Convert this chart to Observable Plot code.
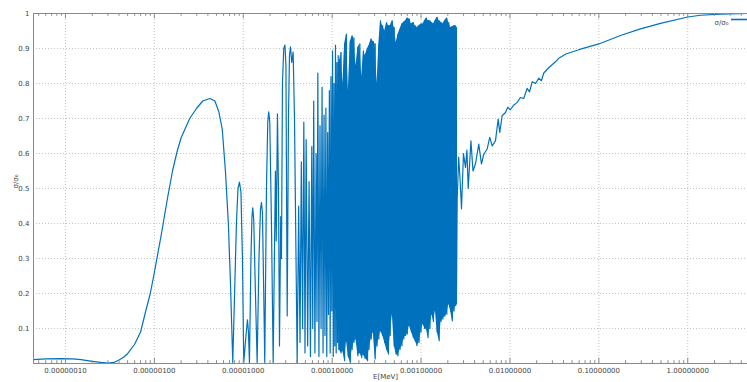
<!DOCTYPE html>
<html><head><meta charset="utf-8">
<script src="https://cdn.jsdelivr.net/npm/d3@7"></script>
<script src="https://cdn.jsdelivr.net/npm/@observablehq/plot@0.6"></script>
<style>body{margin:0;background:#fff;} svg{display:block}</style>
</head><body><div id="chart"></div>
<script>
// ---- data (E in MeV, value = sigma/sigma0) ----
const smoothE = [4.37e-8, 6e-8, 9e-8, 1.2e-7, 1.5e-7, 2e-7, 2.5e-7, 3e-7, 3.5e-7, 4e-7, 4.5e-7, 5e-7, 6e-7, 7e-7, 8e-7, 9e-7, 1e-6, 1.2e-6, 1.4e-6, 1.6e-6, 1.8e-6, 2e-6, 2.5e-6, 3e-6, 3.5e-6, 4.2e-6, 4.8e-6, 5.3e-6, 5.8e-6, 6.3e-6, 6.8e-6, 7.2e-6];
const smoothV = [0.011, 0.013, 0.014, 0.013, 0.011, 0.006, 0.003, 0.001, 0.003, 0.01, 0.018, 0.028, 0.055, 0.09, 0.15, 0.2, 0.26, 0.37, 0.47, 0.55, 0.605, 0.645, 0.70, 0.73, 0.75, 0.757, 0.75, 0.72, 0.67, 0.55, 0.40, 0.22];

const resonE = [7.62e-6, 8.38e-6, 8.72e-6, 9.06e-6, 9.42e-6, 9.79e-6, 1.013e-5, 1.073e-5, 1.115e-5, 1.144e-5,
  1.174e-5, 1.22e-5, 1.253e-5, 1.279e-5, 1.312e-5, 1.371e-5, 1.433e-5, 1.502e-5, 1.561e-5, 1.602e-5,
  1.644e-5, 1.70e-5, 1.745e-5, 1.824e-5, 1.886e-5, 1.935e-5, 1.987e-5, 2.076e-5, 2.17e-5, 2.30e-5,
  2.35e-5, 2.425e-5, 2.49e-5, 2.555e-5, 2.64e-5, 2.69e-5, 2.76e-5, 2.855e-5, 2.945e-5, 3.02e-5,
  3.12e-5, 3.225e-5, 3.31e-5, 3.40e-5, 3.51e-5, 3.64e-5, 3.77e-5, 4.04e-5];
const resonV = [0.003, 0.40, 0.50, 0.518, 0.49, 0.30, 0.003, 0.08, 0.125, 0.09,
  0.003, 0.30, 0.42, 0.445, 0.41, 0.20, 0.003, 0.30, 0.44, 0.46,
  0.43, 0.20, 0.003, 0.50, 0.69, 0.719, 0.69, 0.40, 0.003, 0.55,
  0.35, 0.713, 0.50, 0.05, 0.42, 0.30, 0.80, 0.90, 0.91, 0.85,
  0.136, 0.70, 0.88, 0.905, 0.86, 0.89, 0.70, 0.003];

const clusterE = [4.2e-5, 4.35e-5, 4.5e-5, 4.65e-5, 4.8e-5, 4.95e-5, 5.1e-5, 5.3e-5, 5.5e-5, 5.7e-5,
  5.9e-5, 6.05e-5, 6.2e-5, 6.4e-5, 6.6e-5, 6.75e-5, 6.9e-5, 7.1e-5, 7.3e-5, 7.5e-5,
  7.7e-5, 7.9e-5, 8.1e-5, 8.3e-5, 8.5e-5, 8.7e-5, 8.9e-5, 9.1e-5, 9.3e-5, 9.5e-5,
  9.7e-5, 9.9e-5, 1.01e-4, 1.03e-4, 1.05e-4, 1.07e-4, 1.09e-4, 1.11e-4, 1.13e-4, 1.15e-4,
  1.17e-4, 1.19e-4];
const clusterV = [0.45, 0.06, 0.576, 0.10, 0.69, 0.03, 0.64, 0.05, 0.52, 0.02,
  0.62, 0.10, 0.75, 0.03, 0.60, 0.12, 0.83, 0.02, 0.68, 0.10,
  0.79, 0.03, 0.71, 0.08, 0.73, 0.02, 0.66, 0.14, 0.78, 0.03,
  0.82, 0.15, 0.893, 0.02, 0.80, 0.05, 0.91, 0.03, 0.86, 0.06,
  0.88, 0.04];

const denseE = [1.2e-4, 1.26e-4, 1.32e-4, 1.38e-4, 1.45e-4, 1.52e-4, 1.6e-4, 1.68e-4, 1.76e-4, 1.85e-4,
  1.95e-4, 2.05e-4, 2.15e-4, 2.25e-4, 2.35e-4, 2.5e-4, 2.6e-4, 2.75e-4, 2.9e-4, 3.05e-4,
  3.2e-4, 3.35e-4, 3.5e-4, 3.7e-4, 3.9e-4, 4.1e-4, 4.3e-4, 4.5e-4, 4.75e-4, 5.0e-4,
  5.25e-4, 5.5e-4, 5.8e-4, 6.1e-4, 6.4e-4, 6.7e-4, 7.0e-4, 7.4e-4, 7.8e-4, 8.2e-4,
  8.6e-4, 9.0e-4, 9.5e-4, 1.0e-3, 1.05e-3, 1.1e-3, 1.15e-3, 1.2e-3, 1.26e-3, 1.32e-3,
  1.38e-3, 1.45e-3, 1.52e-3, 1.6e-3, 1.68e-3, 1.76e-3, 1.85e-3, 1.95e-3, 2.05e-3, 2.15e-3,
  2.25e-3, 2.35e-3, 2.45e-3, 2.5e-3];
const denseHi = [0.86, 0.889, 0.80, 0.913, 0.941, 0.78, 0.92, 0.936, 0.93, 0.85,
  0.903, 0.913, 0.82, 0.893, 0.88, 0.90, 0.908, 0.927, 0.92, 0.913,
  0.80, 0.913, 0.979, 0.965, 0.95, 0.974, 0.965, 0.965, 0.979, 0.96,
  0.917, 0.94, 0.955, 0.97, 0.975, 0.979, 0.987, 0.984, 0.97, 0.974,
  0.965, 0.96, 0.965, 0.97, 0.97, 0.98, 0.987, 0.98, 0.979, 0.974,
  0.97, 0.981, 0.989, 0.979, 0.975, 0.97, 0.98, 0.987, 0.974, 0.96,
  0.962, 0.965, 0.965, 0.96];
const denseLo = [0.04, 0.03, 0.036, 0.008, 0.065, 0.02, 0.003, 0.04, 0.06, 0.07,
  0.022, 0.03, 0.017, 0.025, 0.015, 0.008, 0.04, 0.07, 0.089, 0.013,
  0.05, 0.07, 0.093, 0.08, 0.06, 0.04, 0.027, 0.08, 0.141, 0.05,
  0.027, 0.022, 0.04, 0.051, 0.07, 0.08, 0.084, 0.108, 0.09, 0.074,
  0.065, 0.051, 0.06, 0.09, 0.113, 0.1, 0.098, 0.074, 0.1, 0.141,
  0.12, 0.151, 0.09, 0.065, 0.12, 0.127, 0.135, 0.141, 0.17, 0.15,
  0.122, 0.15, 0.165, 0.17];

const tailE = [2.55e-3, 2.65e-3, 2.74e-3, 2.85e-3, 3.0e-3, 3.16e-3, 3.28e-3, 3.39e-3, 3.64e-3, 3.84e-3,
  4.09e-3, 4.46e-3, 4.78e-3, 5.08e-3, 5.54e-3, 5.93e-3, 6.31e-3, 6.87e-3, 7.37e-3, 7.68e-3,
  8.17e-3, 8.9e-3, 9.45e-3, 1.01e-2, 1.10e-2, 1.205e-2, 1.31e-2, 1.43e-2, 1.56e-2, 1.66e-2,
  1.78e-2, 1.94e-2, 2.11e-2, 2.26e-2, 2.40e-2, 2.73e-2, 3.25e-2, 3.54e-2, 4.32e-2, 6.21e-2,
  0.1, 0.175, 0.294, 0.493, 1.0, 1.39, 2.33, 4.7];
const tailV = [0.47, 0.59, 0.53, 0.442, 0.60, 0.56, 0.61, 0.50, 0.636, 0.55,
  0.57, 0.627, 0.57, 0.598, 0.613, 0.646, 0.622, 0.636, 0.698, 0.66,
  0.708, 0.717, 0.732, 0.725, 0.738, 0.746, 0.76, 0.757, 0.786, 0.776,
  0.805, 0.80, 0.815, 0.808, 0.83, 0.845, 0.862, 0.872, 0.885, 0.898,
  0.913, 0.937, 0.956, 0.972, 0.99, 0.995, 0.998, 1.0];

// axis ticks / labels
const xDomain = [4.37e-8, 4.7];
const majorTicks = [1e-7, 1e-6, 1e-5, 1e-4, 1e-3, 1e-2, 1e-1, 1];
const majorLabels = ["0.00000010", "0.00000100", "0.00001000", "0.00010000", "0.00100000", "0.01000000", "0.10000000", "1.00000000"];
const yTicks = [0.1, 0.2, 0.3, 0.4, 0.5, 0.6, 0.7, 0.8, 0.9, 1];
const yLabels = ["0.1", "0.2", "0.3", "0.4", "0.5", "0.6", "0.7", "0.8", "0.9", "1"];
const seriesName = "σ/σ₀";
const xTitle = "E[MeV]";

// ---- build tables ----
const zip = (E, V) => E.map((e, i) => ({E: e, v: V[i]}));
const denseRows = denseE.map((e, i) => ({E: e, hi: denseHi[i], lo: denseLo[i]}));
const lineRows = [
  ...zip(smoothE, smoothV),
  ...zip(resonE, resonV),
  ...zip(clusterE, clusterV),
  ...denseRows.flatMap(d => [{E: d.E, v: d.hi}, {E: d.E, v: d.lo}]),
  ...zip(tailE, tailV)
];
const minorTicks = [];
for (const d of [1e-8, 1e-7, 1e-6, 1e-5, 1e-4, 1e-3, 1e-2, 1e-1, 1]) {
  for (let m = 2; m <= 9; m++) { const t = m * d; if (t > xDomain[0] && t < xDomain[1]) minorTicks.push(t); }
}

const color = "#0072bd";
const axisColor = "#8a8a8a";
const textColor = "#444";

const chart = Plot.plot({
  width: 747, height: 382,
  marginLeft: 33, marginRight: 0, marginTop: 13, marginBottom: 19,
  style: {fontFamily: "DejaVu Sans", fontSize: "7px", background: "#fff", overflow: "visible"},
  x: {type: "log", domain: xDomain, axis: null},
  y: {domain: [0, 1], axis: null},
  marks: [
    Plot.ruleX(majorTicks, {x: d => d, stroke: "#c4c4c4", strokeDasharray: "1,2"}),
    Plot.ruleY(yTicks.slice(0, -1), {y: d => d, stroke: "#c4c4c4", strokeDasharray: "1,2"}),
    Plot.areaY(denseRows, {x: "E", y1: "lo", y2: "hi", fill: color, curve: "linear"}),
    Plot.line(lineRows, {x: "E", y: "v", stroke: color, strokeWidth: 1.2, curve: "linear"}),
    Plot.ruleY([0, 1], {y: d => d, stroke: axisColor}),
    Plot.ruleX([xDomain[0]], {x: d => d, stroke: axisColor}),
    Plot.ruleX(minorTicks, {x: d => d, y1: 0, y2: 0.008, stroke: axisColor}),
    Plot.ruleX(minorTicks, {x: d => d, y1: 1, y2: 0.992, stroke: axisColor}),
    Plot.ruleX(majorTicks, {x: d => d, y1: 0, y2: 0.015, stroke: axisColor}),
    Plot.ruleX(majorTicks, {x: d => d, y1: 1, y2: 0.985, stroke: axisColor}),
    Plot.text(majorTicks, {x: d => d, y: 0, dy: 7, text: (d, i) => majorLabels[i], fill: textColor}),
    Plot.text(yTicks, {y: d => d, frameAnchor: "left", dx: -4, textAnchor: "end", text: (d, i) => yLabels[i], fill: textColor}),
    Plot.text([xTitle], {frameAnchor: "bottom", dy: 15, dx: -5, text: d => d, fill: textColor}),
    Plot.text([seriesName], {frameAnchor: "left", dx: -18, rotate: -90, text: d => d, fill: textColor}),
    Plot.text([seriesName], {frameAnchor: "top-right", dx: -19, dy: 6.5, textAnchor: "end", text: d => d, fill: textColor})
  ]
});
document.getElementById("chart").appendChild(chart);
// legend swatch line
d3.select(chart).append("line")
  .attr("x1", 731).attr("x2", 747).attr("y1", 19.5).attr("y2", 19.5)
  .attr("stroke", color).attr("stroke-width", 1.6);
</script></body></html>
